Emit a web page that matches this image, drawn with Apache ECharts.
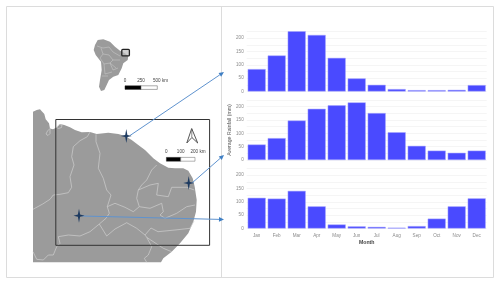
<!DOCTYPE html>
<html>
<head>
<meta charset="utf-8">
<style>
html,body{margin:0;padding:0;background:#fff}
#c{width:500px;height:283px;filter:blur(0.35px)}
</style>
<script src="https://cdn.jsdelivr.net/npm/echarts@6/dist/echarts.min.js"></script>
</head>
<body>
<div id="c"></div>
<script>
const months = ['Jan','Feb','Mar','Apr','May','Jun','Jul','Aug','Sep','Oct','Nov','Dec'];
const rainfallNorth = [84,135,226,212,126,49,25,9,5,5,6,24];
const rainfallEast = [58,82,148,192,205,216,176,104,53,35,27,35];
const rainfallInland = [115,112,141,83,15,8,6,3,9,37,83,113];
const yAxisTitle = 'Average Rainfall (mm)';
const xAxisTitle = 'Month';

const panels = [rainfallNorth, rainfallEast, rainfallInland];
const chart = echarts.init(document.getElementById('c'), null, {renderer:'canvas', width:500, height:283});

const tops = [31.5, 100, 168.5];
const LAND = '#9b9b9b', STATE = '#cfcfcf', ARROW = '#5f93cf', HEAD = '#3f7fc4', STAR = '#1d3a60';
const FONT = '"Liberation Sans", Arial, sans-serif';

function poly(pts, fill, stroke, lw){
  return {type:'polygon', silent:true, shape:{points:pts}, style:{fill:fill||'none', stroke:stroke||'none', lineWidth:lw||0}};
}
function pline(pts, stroke, lw){
  return {type:'polyline', silent:true, shape:{points:pts}, style:{fill:'none', stroke:stroke, lineWidth:lw, lineJoin:'round'}};
}
function rect(x,y,w,h,fill,stroke,lw){
  return {type:'rect', silent:true, shape:{x:x,y:y,width:w,height:h}, style:{fill:fill||'none', stroke:stroke||'none', lineWidth:lw||0}};
}
function txt(x,y,t,size,color,align){
  return {type:'text', silent:true, x:x, y:y, style:{text:t, fontSize:size, fontFamily:FONT, fill:color, align:align||'center', verticalAlign:'middle'}};
}
function star(cx,cy){
  const rx=5.5, ry=7, i=1.1;
  return poly([[cx,cy-ry],[cx+i,cy-i],[cx+rx,cy],[cx+i,cy+i],[cx,cy+ry],[cx-i,cy+i],[cx-rx,cy],[cx-i,cy-i]], STAR);
}
function arrow(x0,y0,x1,y1){
  const a=Math.atan2(y1-y0,x1-x0), L=5, W=2.3, c=Math.cos(a), s=Math.sin(a);
  const bx=x1-L*c, by=y1-L*s;
  return [pline([[x0,y0],[bx,by]], ARROW, 1),
          poly([[x1,y1],[bx-W*s,by+W*c],[bx+W*s,by-W*c]], HEAD)];
}

const landOutline = [[33,111.7],[36.7,110],[40,109.3],[42,111.5],[44.3,114],[45.7,119.3],[49,123.3],[50,128.5],[53,129.3],[56.7,127.5],[60,124],[64.3,125],[70,127.3],[75,130],[81.7,132.3],[90,132],[96.7,134],[108.3,132.7],[118.3,134],[125,136],[131.7,140],[138.3,145],[145,150],[153.3,158.3],[160,163.3],[168.3,167.7],[175,168.3],[183.3,168.3],[188.3,170.7],[192.7,178.3],[194.7,186.7],[196.7,200],[196,211.7],[193.3,221.7],[188.3,233.3],[180,243.3],[171.7,251.7],[163.3,258.3],[161,262.3],[33,262.3]];
const stateLines = [
  [[90,132],[87.3,136.7],[80,140.7],[73.3,146.7],[71.7,156.7],[74,165],[70,176.7],[71.7,187.3],[68.3,192.7],[60,194.3],[53.3,195],[50,199.3],[42.7,204],[33,209.3]],
  [[96,134.3],[96,141.7],[100,153.3],[98.3,168.3],[103.3,178.3],[106.7,190],[111,195],[107.3,206.7],[109.3,213.3],[106,218.3],[99.3,224],[90,231.7],[80,236],[68.3,235],[58.3,236.7],[60,243.3],[56.7,246.7],[53.3,255],[48.3,255],[43.3,260],[36.7,259.3],[33,251.7]],
  [[156.7,165],[151.7,170],[146.7,180],[141.7,185],[138.3,190],[136.7,198.3],[139.3,206.7],[133.3,211.7],[125,207.3],[115,203.3],[107.3,206.7]],
  [[138.3,190],[150,185],[158.3,183.3],[156.7,195],[168.3,196.7],[171.7,187.3],[186.7,187.3],[194.3,190]],
  [[139.3,206.7],[150,208.3],[161.7,203.3],[163.3,211.7],[160,215],[165,218.3],[176.7,213.3],[186.7,206.7],[195,205]],
  [[99.3,224],[106.7,236],[115,229],[126.7,222.7],[136.7,228.3],[145,235],[151,228],[158,231.7],[175,230],[190,228.3],[194,221]],
  [[145,235],[146.7,237.3],[163.3,248.3],[171.7,251.7]],
  [[146.7,237.3],[151.7,246.7],[148.3,255],[144.3,258.3],[146.7,262.3]],
  [[50,128.5],[47.5,131],[46,134],[48,135.5],[50,133.5],[50,128.5]],
  [[56.7,127.5],[59,124.5],[62,125],[61.5,127.5],[58.5,128.5],[56.7,127.5]]
];
const continent = [[97.7,40],[103.3,39.3],[110,41.7],[115,46.7],[120,50.7],[125,53.3],[128.3,56],[127.7,60],[123.3,63.3],[121.7,68.3],[118.3,75],[113.3,76.7],[109,80],[106.7,85],[104.3,90],[101,91],[99,86.7],[100,80],[101.7,70],[101,61.7],[95.7,55],[93.7,50],[95,45]];
const continentLines = [
  [[97,46],[103,48],[109,47],[113,52],[120,56]],
  [[101,48],[103,54],[109,55],[113,60],[120,60]],
  [[103,54],[100,58],[104,64],[110,63],[116,68]],
  [[104,64],[105,74],[112,72]],
  [[102,76],[108,76]],
  [[113,60],[110,63],[113,70],[118,68]]
];

const graphics = [
  rect(6.5,6.5,487,271,'none','#dcdcdc',1),
  {type:'line', silent:true, shape:{x1:221.5,y1:6.5,x2:221.5,y2:277.5}, style:{stroke:'#dcdcdc',lineWidth:1}},
  poly(continent, LAND)
];
continentLines.forEach(l=>graphics.push(pline(l,STATE,0.5)));
graphics.push(
  {type:'rect', silent:true, shape:{x:121.8,y:49.3,width:7.6,height:6.6,r:1}, style:{fill:'rgba(190,190,190,0.7)',stroke:'#222',lineWidth:1.3}},
  rect(125,85.8,16,3.6,'#000','#222',0.5),
  rect(141,85.8,16.3,3.6,'#fff','#555',0.5),
  txt(125,80.3,'0',4.6,'#444'),
  txt(141,80.3,'250',4.6,'#444'),
  txt(153,80.3,'500 km',4.6,'#444','left'),
  poly(landOutline, LAND)
);
stateLines.forEach(l=>graphics.push(pline(l,STATE,0.7)));
graphics.push(
  rect(55.8,119.5,153.8,125.8,'none','#333',1),
  rect(166.4,157.4,14.3,3.8,'#000','#222',0.5),
  rect(180.7,157.4,14.3,3.8,'#fff','#666',0.5),
  txt(166.4,151.8,'0',4.6,'#444'),
  txt(180.7,151.8,'100',4.6,'#444'),
  txt(190.5,151.8,'200 km',4.6,'#444','left'),
  poly([[186.8,143],[191.7,128.5],[197.7,143],[191.9,137.5]],'#fff','#555',1),
  pline([[191.8,129],[191.8,137.5]],'#555',0.7)
);
graphics.push(...arrow(130,135.5,224,72), ...arrow(192,183,224,155), ...arrow(82,216,224,219.5));
graphics.push(star(126.3,136), star(188.7,183), star(79,215.7));

const option = {
  animation:false,
  backgroundColor:'#fff',
  graphic:{elements:graphics},
  grid:tops.map(t=>({left:246.7, width:240, top:t, height:60})),
  xAxis:panels.map((_,i)=>({
    type:'category', gridIndex:i, data:months,
    axisLine:{show:false}, axisTick:{show:false},
    axisLabel:{show:i===2, fontSize:4.6, color:'#8a8a8a', fontFamily:FONT, margin:5},
    name:i===2?xAxisTitle:'', nameLocation:'middle', nameGap:12,
    nameTextStyle:{fontSize:5.2, color:'#444', fontFamily:FONT, fontWeight:'bold'}
  })),
  yAxis:panels.map((_,i)=>({
    type:'value', gridIndex:i, min:0, max:225, interval:25,
    axisLine:{show:false}, axisTick:{show:false},
    splitLine:{lineStyle:{color:'#f1f1f1',width:0.7}},
    axisLabel:{fontSize:4.6, color:'#8a8a8a', fontFamily:FONT, margin:3,
      formatter:v=>v%50===0?String(v):''},
    name:i===1?yAxisTitle:'', nameLocation:'middle', nameGap:13, nameRotate:90,
    nameTextStyle:{fontSize:5.2, color:'#555', fontFamily:FONT}
  })),
  series:panels.map((d,i)=>({
    type:'bar', xAxisIndex:i, yAxisIndex:i, data:d, barWidth:18,
    itemStyle:{color:'#4a4aff', borderColor:'#a4a4ff', borderWidth:0.5}
  }))
};
chart.setOption(option);
</script>
</body>
</html>
